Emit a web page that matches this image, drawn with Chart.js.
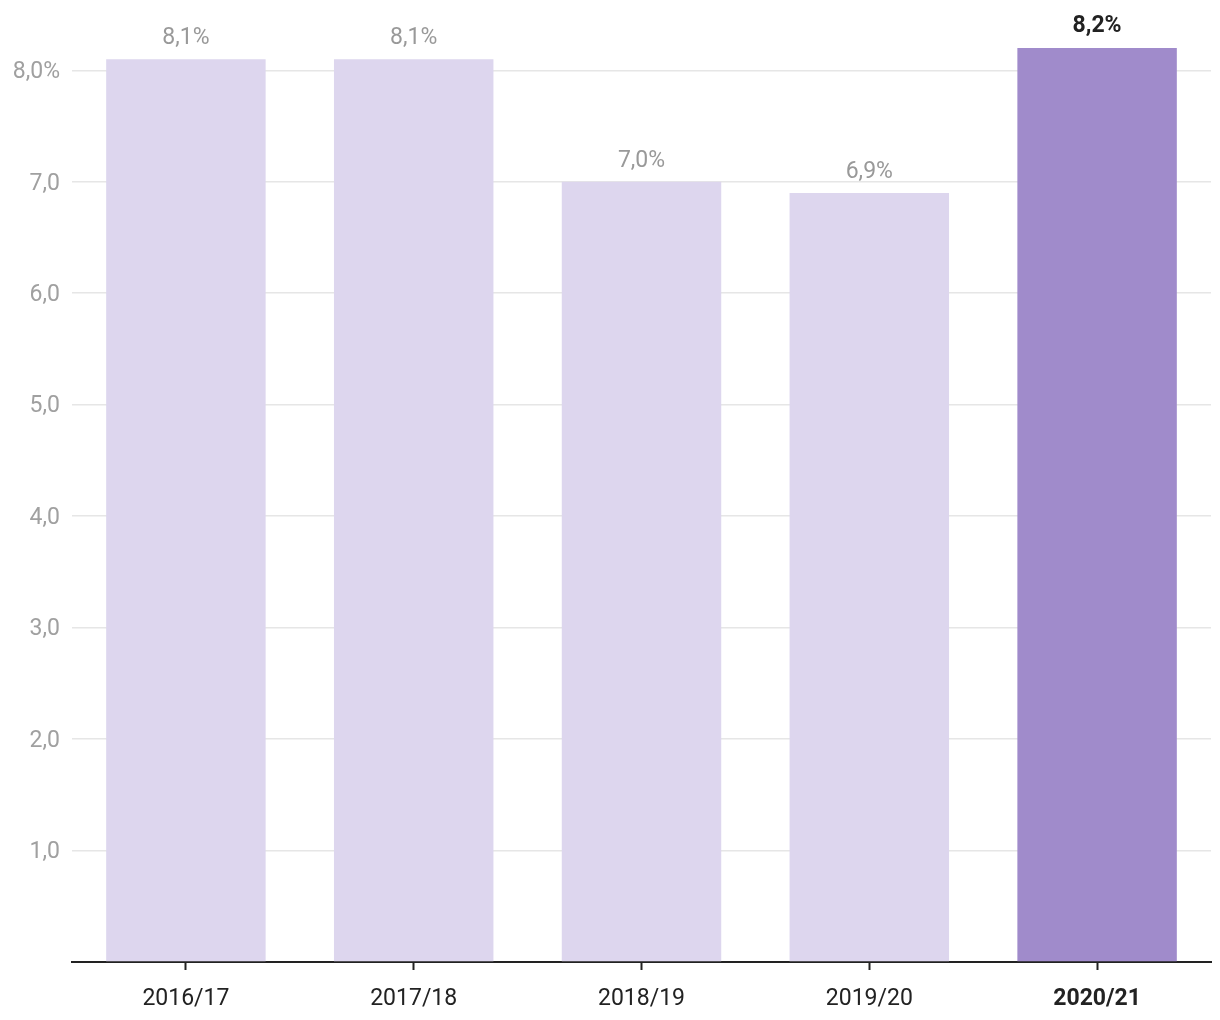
<!DOCTYPE html>
<html>
<head>
<meta charset="utf-8">
<script src="https://cdn.jsdelivr.net/npm/chart.js@4"></script>
<style>
  html, body { margin: 0; padding: 0; background: #fff; }
  #wrap { width: 1220px; height: 1020px; }
</style>
</head>
<body>
<div id="wrap"><canvas id="chart" width="1220" height="1020"></canvas></div>
<script>
"use strict";

const categories = ["2016/17", "2017/18", "2018/19", "2019/20", "2020/21"];
const values = [8.1, 8.1, 7.0, 6.9, 8.2];
const yTicks = [1, 2, 3, 4, 5, 6, 7, 8];
const highlightIndex = 4;

const lightBar = "#ddd6ee";
const darkBar = "#a08bcb";

function fmt(v) {
    return v.toFixed(1).replace(".", ",");
}

const valueLabels = {
    id: "valueLabels",
    afterDatasetsDraw(chart) {
        const ctx = chart.ctx;
        const meta = chart.getDatasetMeta(0);
        ctx.save();
        ctx.textAlign = "center";
        ctx.textBaseline = "middle";
        meta.data.forEach((bar, i) => {
            const bold = i === highlightIndex;
            ctx.font = (bold ? "bold " : "") + "23px Roboto";
            ctx.fillStyle = bold ? "#222" : "#999";
            ctx.fillText(fmt(values[i]) + "%", bar.x, bar.y - (bold ? 22 : 21));
        });
        ctx.restore();
    }
};

const chartContext = document.getElementById("chart");

new Chart(chartContext, {
    type: "bar",
    data: {
        labels: categories,
        datasets: [
            {
                data: values,
                backgroundColor: values.map((v, i) => i === highlightIndex ? darkBar : lightBar),
                borderWidth: 0,
                barPercentage: 0.7,
                categoryPercentage: 1
            }
        ]
    },
    options: {
        responsive: false,
        animation: false,
        layout: { padding: { top: 48, right: 9, left: 0, bottom: 0 } },
        plugins: {
            legend: { display: false },
            tooltip: { enabled: false }
        },
        scales: {
            x: {
                afterFit(scale) { scale.height = 58; },
                grid: {
                    offset: false,
                    drawOnChartArea: false,
                    drawTicks: true,
                    tickLength: 8,
                    tickWidth: 2,
                    tickColor: "#222"
                },
                border: { display: true, color: "#222", width: 2 },
                ticks: {
                    padding: 15,
                    color: "#222",
                    font: (c) => ({ family: "Roboto", size: 23, weight: c.index === highlightIndex ? "bold" : "normal" })
                }
            },
            y: {
                min: 0,
                max: 8.2,
                afterFit(scale) { scale.width = 72; },
                afterBuildTicks(scale) {
                    scale.ticks = [0].concat(yTicks).map((v) => ({ value: v }));
                },
                border: { display: false },
                grid: {
                    color: "#e6e6e6",
                    lineWidth: 1.5,
                    drawTicks: false
                },
                ticks: {
                    padding: 12,
                    labelOffset: 2,
                    color: "#a0a0a0",
                    font: { family: "Roboto", size: 23 },
                    callback: (v) => {
                        if (v === 0) return "";
                        return v === 8 ? fmt(v) + "%" : fmt(v);
                    }
                }
            }
        }
    },
    plugins: [valueLabels]
});
</script>
</body>
</html>
